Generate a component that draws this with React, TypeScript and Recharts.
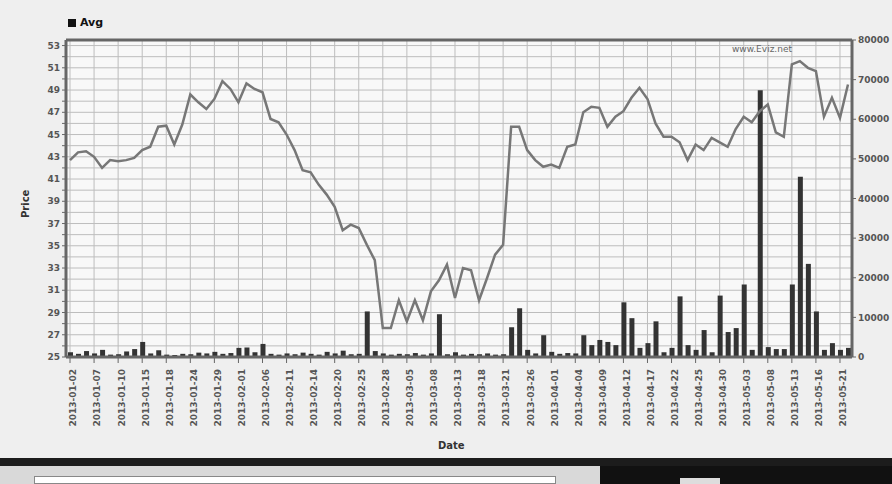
import {
  ComposedChart,
  Line,
  Bar,
  XAxis,
  YAxis,
  CartesianGrid,
  ReferenceLine,
} from "recharts";

const dates = [
  "2013-01-02", "2013-01-03", "2013-01-04", "2013-01-07", "2013-01-08", "2013-01-09", "2013-01-10", "2013-01-11",
  "2013-01-14", "2013-01-15", "2013-01-16", "2013-01-17", "2013-01-18", "2013-01-22", "2013-01-23", "2013-01-24",
  "2013-01-25", "2013-01-28", "2013-01-29", "2013-01-30", "2013-01-31", "2013-02-01", "2013-02-04", "2013-02-05",
  "2013-02-06", "2013-02-07", "2013-02-08", "2013-02-11", "2013-02-12", "2013-02-13", "2013-02-14", "2013-02-15",
  "2013-02-19", "2013-02-20", "2013-02-21", "2013-02-22", "2013-02-25", "2013-02-26", "2013-02-27", "2013-02-28",
  "2013-03-01", "2013-03-04", "2013-03-05", "2013-03-06", "2013-03-07", "2013-03-08", "2013-03-11", "2013-03-12",
  "2013-03-13", "2013-03-14", "2013-03-15", "2013-03-18", "2013-03-19", "2013-03-20", "2013-03-21", "2013-03-22",
  "2013-03-25", "2013-03-26", "2013-03-27", "2013-03-28", "2013-04-01", "2013-04-02", "2013-04-03", "2013-04-04",
  "2013-04-05", "2013-04-08", "2013-04-09", "2013-04-10", "2013-04-11", "2013-04-12", "2013-04-15", "2013-04-16",
  "2013-04-17", "2013-04-18", "2013-04-19", "2013-04-22", "2013-04-23", "2013-04-24", "2013-04-25", "2013-04-26",
  "2013-04-29", "2013-04-30", "2013-05-01", "2013-05-02", "2013-05-03", "2013-05-06", "2013-05-07", "2013-05-08",
  "2013-05-09", "2013-05-10", "2013-05-13", "2013-05-14", "2013-05-15", "2013-05-16", "2013-05-17", "2013-05-20",
  "2013-05-21", "2013-05-22",
];

const avgPrice = [
  42.7, 43.4, 43.5, 43.0, 42.0, 42.7, 42.6, 42.7, 42.9, 43.6, 43.9, 45.7, 45.8, 44.1, 45.9, 48.6,
  47.9, 47.3, 48.2, 49.8, 49.1, 47.9, 49.6, 49.1, 48.8, 46.4, 46.1, 45.0, 43.6, 41.8, 41.6, 40.5,
  39.6, 38.5, 36.4, 36.9, 36.6, 35.1, 33.7, 27.6, 27.6, 30.1, 28.2, 30.1, 28.3, 30.9, 31.9, 33.3,
  30.3, 33.0, 32.8, 30.1, 32.1, 34.2, 35.1, 45.7, 45.7, 43.6, 42.7, 42.1, 42.3, 42.0, 43.9, 44.1,
  47.0, 47.5, 47.4, 45.7, 46.6, 47.1, 48.3, 49.2, 48.2, 46.0, 44.8, 44.8, 44.3, 42.7, 44.1, 43.6,
  44.7, 44.3, 43.9, 45.5, 46.6, 46.1, 47.1, 47.7, 45.2, 44.8, 51.3, 51.6, 51.0, 50.7, 46.6, 48.3,
  46.5, 49.5,
];

const volume = [
  1200, 800, 1500, 900, 1800, 600, 700, 1400, 2000, 3800, 900, 1700, 600, 500, 800, 700,
  1100, 900, 1300, 800, 1000, 2300, 2400, 1200, 3300, 800, 600, 900, 700, 1100, 800, 600,
  1300, 900, 1600, 700, 800, 11500, 1500, 900, 600, 800, 700, 1000, 600, 900, 10800, 700,
  1200, 600, 800, 700, 900, 600, 700, 7500, 12300, 1800, 900, 5500, 1300, 800, 1000, 900,
  5500, 3000, 4300, 3800, 3000, 13800, 9800, 2300, 3500, 9000, 1200, 2300, 15300, 3000, 1800, 6800,
  1200, 15500, 6300, 7300, 18300, 1800, 67300, 2500, 2000, 2000, 18300, 45500, 23500, 11500, 1800, 3500,
  1800, 2300,
];

const priceTicks = [
  25, 26, 27, 28, 29, 30, 31, 32, 33, 34, 35, 36, 37, 38, 39, 40, 41, 42, 43, 44, 45, 46, 47, 48, 49, 50,
  51, 52, 53,
];
const volumeTicks = [0, 10000, 20000, 30000, 40000, 50000, 60000, 70000, 80000];

const data = dates.map((d, i) => ({ date: d, avg: avgPrice[i], vol: volume[i] }));

const font = "'DejaVu Sans', sans-serif";
const tickStyle = { fontSize: 9, fontWeight: 700, fill: "#555", fontFamily: font };

const App = () => {
  return (
    <div
      style={{
        position: "absolute",
        left: 0,
        top: 0,
        width: 892,
        height: 484,
        background: "#efefef",
        overflow: "hidden",
        fontFamily: font,
      }}
    >
      <ComposedChart
        width={892}
        height={460}
        data={data}
        margin={{ top: 40, right: 0, bottom: 0, left: 0 }}
      >
        <CartesianGrid yAxisId="left" stroke="#bdbdbd" strokeWidth={1} fill="#f8f8f8" />
        <XAxis
          dataKey="date"
          interval={2}
          angle={-90}
          textAnchor="end"
          height={103}
          tick={tickStyle}
          tickLine={{ stroke: "#666" }}
          axisLine={{ stroke: "#666", strokeWidth: 3 }}
          tickMargin={6}
        />
        <YAxis
          yAxisId="left"
          width={66}
          domain={[25, 53.5]}
          ticks={priceTicks}
          interval={0}
          tickFormatter={(v: number) => (v % 2 === 1 ? String(v) : "")}
          tick={tickStyle}
          tickSize={4}
          tickLine={{ stroke: "#666" }}
          axisLine={{ stroke: "#666", strokeWidth: 3 }}
          allowDataOverflow
        />
        <YAxis
          yAxisId="right"
          orientation="right"
          width={40}
          domain={[0, 80000]}
          ticks={volumeTicks}
          interval={0}
          tick={{ ...tickStyle, textAnchor: "start" }}
          tickSize={4}
          tickLine={{ stroke: "#666" }}
          axisLine={{ stroke: "#666", strokeWidth: 3 }}
        />
        <ReferenceLine yAxisId="left" y={53.5} stroke="#666" strokeWidth={3} />
        <Bar
          yAxisId="right"
          dataKey="vol"
          name="Volume"
          fill="#333"
          barSize={5}
          isAnimationActive={false}
        />
        <Line
          yAxisId="left"
          type="linear"
          dataKey="avg"
          name="Avg"
          stroke="#777"
          strokeWidth={2.5}
          dot={false}
          isAnimationActive={false}
        />
      </ComposedChart>

      <div
        style={{
          position: "absolute",
          left: 68,
          top: 16,
          fontSize: 11,
          fontWeight: 700,
          color: "#111",
          display: "flex",
          alignItems: "center",
          gap: 4,
        }}
      >
        <span style={{ display: "inline-block", width: 8, height: 8, background: "#111" }} />
        Avg
      </div>
      <div
        style={{
          position: "absolute",
          left: 20,
          top: 218,
          transform: "rotate(-90deg)",
          transformOrigin: "left top",
          fontSize: 10,
          fontWeight: 700,
          color: "#333",
        }}
      >
        Price
      </div>
      <div
        style={{
          position: "absolute",
          left: 438,
          top: 440,
          fontSize: 10,
          fontWeight: 700,
          color: "#333",
        }}
      >
        Date
      </div>
      <div
        style={{
          position: "absolute",
          left: 732,
          top: 44,
          fontSize: 9,
          color: "#666",
        }}
      >
        www.Eviz.net
      </div>

      <div style={{ position: "absolute", left: 0, top: 458, width: 892, height: 8, background: "#1c1c1c" }} />
      <div style={{ position: "absolute", left: 0, top: 466, width: 600, height: 18, background: "#d9d9d9" }}>
        <div style={{ position: "absolute", left: 34, top: 10, width: 520, height: 6, background: "#fff", border: "1px solid #888" }} />
      </div>
      <div style={{ position: "absolute", left: 600, top: 466, width: 292, height: 18, background: "#111" }}>
        <div style={{ position: "absolute", left: 80, top: 12, width: 40, height: 6, background: "#ddd" }} />
      </div>
    </div>
  );
};

export default App;
